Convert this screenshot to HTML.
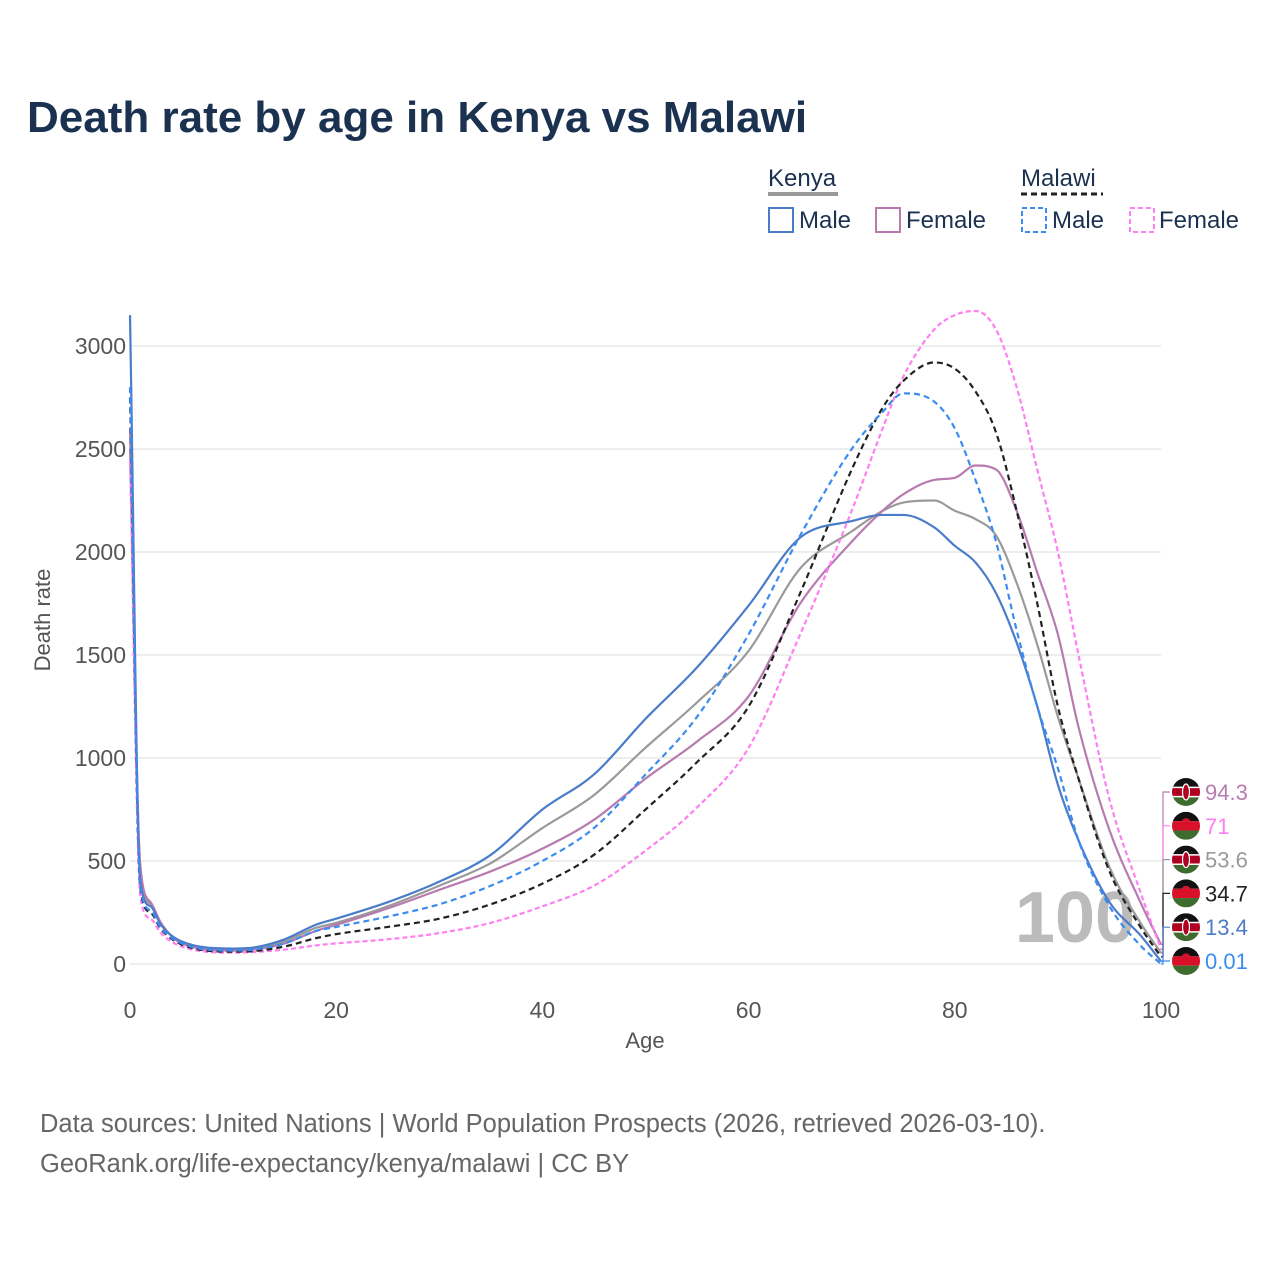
<!DOCTYPE html>
<html><head><meta charset="utf-8"><style>
body{margin:0;background:#fff;font-family:"Liberation Sans",sans-serif}
</style></head><body>
<svg id="c" width="1280" height="1280" xmlns="http://www.w3.org/2000/svg" font-family="Liberation Sans, sans-serif">
<rect width="1280" height="1280" fill="#fff"/>
<text x="27" y="132" font-size="44" font-weight="bold" fill="#1b3150">Death rate by age in Kenya vs Malawi</text>
<g font-size="24" fill="#1b3150">
 <text x="768" y="186">Kenya</text>
 <line x1="768" y1="194" x2="838" y2="194" stroke="#999" stroke-width="4"/>
 <text x="1021" y="186">Malawi</text>
 <line x1="1021" y1="194" x2="1103" y2="194" stroke="#222" stroke-width="3" stroke-dasharray="6,4"/>
 <g><rect x="769" y="208" width="24" height="24" fill="none" stroke="#4a7cc9" stroke-width="2"/><text x="799" y="228">Male</text></g>
 <g><rect x="876" y="208" width="24" height="24" fill="none" stroke="#b87bb0" stroke-width="2"/><text x="906" y="228">Female</text></g>
 <g><rect x="1022" y="208" width="24" height="24" fill="none" stroke="#3b8cf0" stroke-width="2" stroke-dasharray="5,3"/><text x="1052" y="228">Male</text></g>
 <g><rect x="1130" y="208" width="24" height="24" fill="none" stroke="#ff7ff0" stroke-width="2" stroke-dasharray="5,3"/><text x="1159" y="228">Female</text></g>
</g>
<g id="grid"></g>
<text x="1075" y="942" font-size="72" font-weight="bold" fill="#bbb" text-anchor="middle">100</text>
<g id="series"></g>
<g id="labels"></g>
<text x="645" y="1048" font-size="22" fill="#555" text-anchor="middle">Age</text>
<text transform="translate(50,620) rotate(-90)" font-size="22" fill="#555" text-anchor="middle">Death rate</text>
<text x="40" y="1132" font-size="25.5" fill="#666">Data sources: United Nations | World Population Prospects (2026, retrieved 2026-03-10).</text>
<text x="40" y="1172" font-size="25.5" fill="#666">GeoRank.org/life-expectancy/kenya/malawi | CC BY</text>
</svg>
<script>
const ages=[0,1,2,3,5,10,12,15,18,20,25,30,35,40,45,50,55,60,65,70,73,75,78,80,82,84,86,88,90,92,95,98,100];
const kenyaMale=[3150,400,280,190,110,75,80,120,190,220,300,400,530,750,920,1190,1440,1740,2070,2150,2180,2180,2120,2030,1950,1800,1560,1250,870,600,300,140,13.4];
const kenyaFemale=[2600,480,300,200,100,65,70,100,160,190,270,360,450,560,700,900,1080,1300,1750,2050,2200,2280,2350,2360,2420,2400,2200,1900,1600,1150,650,300,94.3];
const kenyaTotal=[2500,440,290,195,105,70,75,110,175,200,280,380,490,660,820,1050,1270,1520,1920,2100,2200,2240,2250,2200,2160,2080,1850,1550,1200,900,470,200,53.6];
const malawiTotal=[2750,370,250,170,95,60,63,85,125,145,180,220,290,390,530,750,980,1250,1800,2400,2700,2830,2920,2890,2780,2580,2200,1750,1250,900,450,180,34.7];
const malawiMale=[2800,380,260,175,100,65,70,100,160,180,230,290,380,500,660,920,1200,1600,2080,2500,2680,2770,2730,2600,2350,2050,1620,1250,950,600,280,90,0.01];
const malawiFemale=[2450,330,220,150,85,55,58,70,90,100,120,150,200,280,380,550,760,1050,1600,2200,2600,2850,3080,3150,3170,3080,2800,2400,2000,1500,800,350,71];
const yTicks=[0,500,1000,1500,2000,2500,3000];
const xTicks=[0,20,40,60,80,100];
const X=a=>130+a*10.31, Y=v=>964-v*0.206;
const NS="http://www.w3.org/2000/svg";
function mk(t,at,p){const e=document.createElementNS(NS,t);for(const k in at)e.setAttribute(k,at[k]);p.appendChild(e);return e;}
function smoothPath(pts){
 const n=pts.length, d=[], m=[];
 for(let i=0;i<n-1;i++)d.push((pts[i+1][1]-pts[i][1])/(pts[i+1][0]-pts[i][0]));
 m.push(d[0]);
 for(let i=1;i<n-1;i++)m.push(d[i-1]*d[i]<=0?0:(d[i-1]+d[i])/2);
 m.push(d[n-2]);
 for(let i=0;i<n-1;i++){if(d[i]===0){m[i]=0;m[i+1]=0;continue;}const a=m[i]/d[i],b=m[i+1]/d[i],s=a*a+b*b;if(s>9){const t=3/Math.sqrt(s);m[i]=t*a*d[i];m[i+1]=t*b*d[i];}}
 let p=`M${pts[0][0]},${pts[0][1]}`;
 for(let i=0;i<n-1;i++){const h=(pts[i+1][0]-pts[i][0])/3;p+=` C${pts[i][0]+h},${pts[i][1]+m[i]*h} ${pts[i+1][0]-h},${pts[i+1][1]-m[i+1]*h} ${pts[i+1][0]},${pts[i+1][1]}`;}
 return p;
}
const grid=document.getElementById('grid');
yTicks.forEach(v=>{
 const l=mk('line',{x1:130,x2:1161,y1:Y(v),y2:Y(v),stroke:'#e8e8e8','stroke-width':1.5},grid);
 
 
 const t=mk('text',{x:126,y:Y(v)+8,'font-size':23,fill:'#555','text-anchor':'end'},grid);
 t.textContent=v;
 
 
});
xTicks.forEach(v=>{
 const t=mk('text',{x:X(v),y:1018,'font-size':23,fill:'#555','text-anchor':'middle'},grid);
 t.textContent=v;
 
 
});
const S=document.getElementById('series');
const series=[
 ['kenya-total',kenyaTotal,'#9a9a9a',null],
 ['kenya-female',kenyaFemale,'#b87bb0',null],
 ['malawi-female',malawiFemale,'#ff7ff0','5,3'],
 ['malawi-total',malawiTotal,'#222','6,4'],
 ['kenya-male',kenyaMale,'#4a7cc9',null],
 ['malawi-male',malawiMale,'#3b8cf0','6,4']];
series.forEach(([n,d,c,da])=>{
 const a={d:smoothPath(d.map((v,i)=>[X(ages[i]),Y(v)])),fill:'none',stroke:c,'stroke-width':2.2,'stroke-linejoin':'round'};
 if(da)a['stroke-dasharray']=da;
 const p=mk('path',a,S);
 
 
});
const L=document.getElementById('labels');
const lab=[['kenya-female',kenyaFemale,'#b87bb0','K'],['malawi-female',malawiFemale,'#ff7ff0','M'],['kenya-total',kenyaTotal,'#9a9a9a','K'],['malawi-total',malawiTotal,'#222','M'],['kenya-male',kenyaMale,'#4a7cc9','K'],['malawi-male',malawiMale,'#3b8cf0','M']];
lab.forEach(([n,d,c,f],i)=>{
 const y=792+i*33.8, v=d[d.length-1];
 mk('polyline',{points:`${X(100)},${Y(v)} 1163,${Y(v)} 1163,${y} 1170,${y}`,fill:'none',stroke:c,'stroke-width':1.2},L);
 const g=mk('g',{},L);
 
 
 const cx=1186,r=14;
 const cp=mk('clipPath',{id:'cp'+i},g);
 mk('circle',{cx:cx,cy:y,r:r},cp);
 const gg=mk('g',{'clip-path':`url(#cp${i})`},g);
 mk('rect',{x:cx-r,y:y-r,width:2*r,height:2*r/3,fill:'#111'},gg);
 mk('rect',{x:cx-r,y:y-r/3,width:2*r,height:2*r/3,fill:f=='K'?'#b00020':'#d8102a'},gg);
 mk('rect',{x:cx-r,y:y+r/3,width:2*r,height:2*r/3,fill:'#3e6b2e'},gg);
 if(f=='K'){mk('line',{x1:cx-r,x2:cx+r,y1:y-r/3,y2:y-r/3,stroke:'#fff','stroke-width':1.5},gg);mk('line',{x1:cx-r,x2:cx+r,y1:y+r/3,y2:y+r/3,stroke:'#fff','stroke-width':1.5},gg);mk('ellipse',{cx:cx,cy:y,rx:3.5,ry:8,fill:'#b00020',stroke:'#fff','stroke-width':1.2},gg);}
 else mk('path',{d:`M${cx-4} ${y-r/3}a4 3 0 0 1 8 0z`,fill:'#d8102a'},gg);
 const t=mk('text',{x:1205,y:y+8,'font-size':22,fill:c},L);
 t.textContent=v;
 
 
});
</script>
</body></html>
